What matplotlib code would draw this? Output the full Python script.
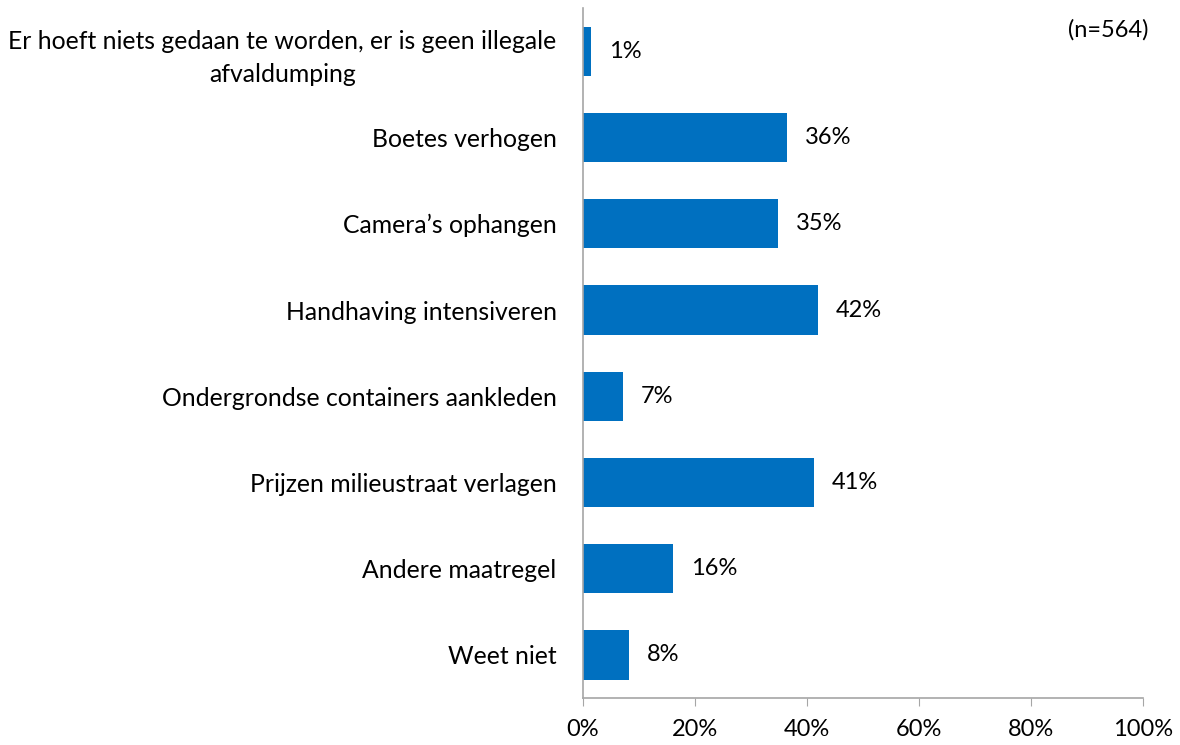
import matplotlib
matplotlib.use("Agg")
import matplotlib.pyplot as plt
from matplotlib.ticker import FuncFormatter

# data
categories = [
    "Er hoeft niets gedaan te worden, er is geen illegale\nafvaldumping",
    "Boetes verhogen",
    "Camera\u2019s ophangen",
    "Handhaving intensiveren",
    "Ondergrondse containers aankleden",
    "Prijzen milieustraat verlagen",
    "Andere maatregel",
    "Weet niet",
]
values = [1.5, 36.4, 34.8, 42.0, 7.1, 41.2, 16.1, 8.2]
labels = ["1%", "36%", "35%", "42%", "7%", "41%", "16%", "8%"]
x_ticks = [0, 20, 40, 60, 80, 100]

plt.rcParams["font.family"] = ["Lato", "DejaVu Sans"]

fig = plt.figure(figsize=(11.8, 7.45), dpi=100)
ax = fig.add_axes([0.494, 0.063, 0.4746, 0.926])

pos = list(range(len(categories)))
ax.barh(pos, values, height=0.57, color="#0070C0")

for p, v, lab in zip(pos, values, labels):
    ax.annotate(lab, (v, p), xytext=(13, 0), textcoords="offset points",
                ha="left", va="center", fontsize=17)

ax.set_ylim(len(categories) - 0.5, -0.5)
ax.set_xlim(0, 100)
ax.set_yticks(pos)
ax.set_yticklabels(categories, fontsize=17.8, multialignment="center",
                   linespacing=1.5)
ax.set_xticks(x_ticks)
ax.xaxis.set_major_formatter(FuncFormatter(lambda x, _: f"{x:.0f}%"))
ax.tick_params(axis="x", labelsize=17, length=6, color="#A6A6A6", pad=9)
ax.tick_params(axis="y", length=0, pad=19)

for side in ["top", "right"]:
    ax.spines[side].set_visible(False)
for side in ["left", "bottom"]:
    ax.spines[side].set_color("#A6A6A6")
    ax.spines[side].set_linewidth(1.2)

fig.text(0.973, 0.96, "(n=564)", ha="right", va="center", fontsize=17)

fig.savefig("out.png", dpi=100)
